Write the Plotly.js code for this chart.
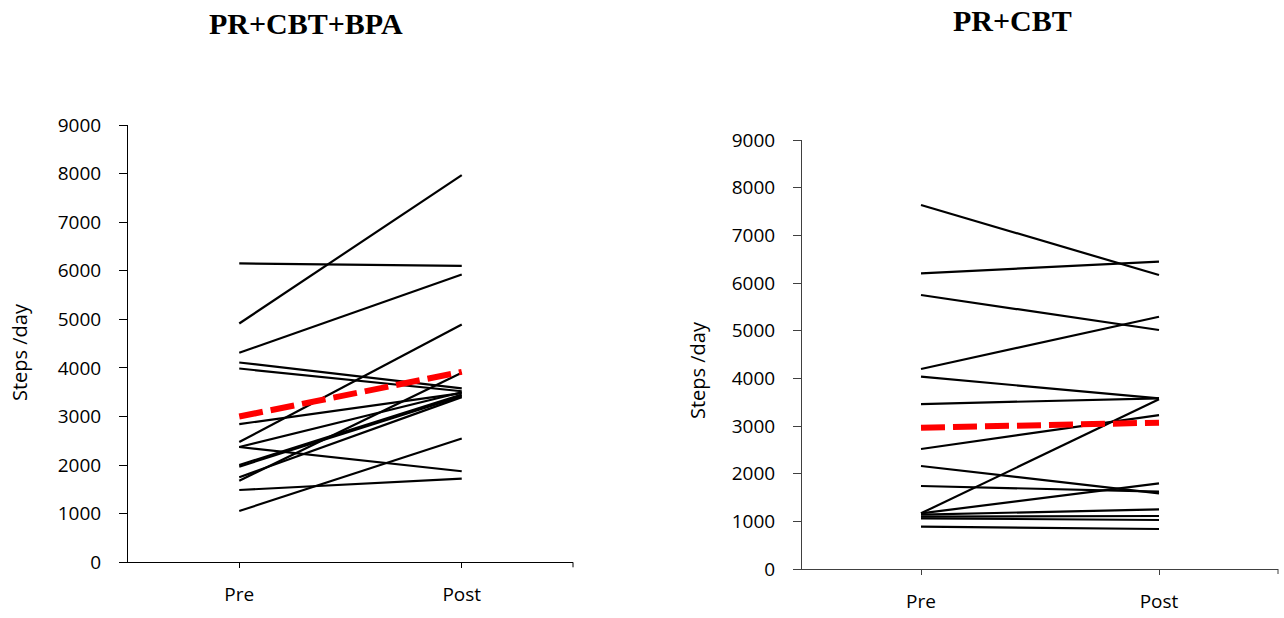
<!DOCTYPE html>
<html>
<head>
<meta charset="utf-8">
<script src="https://cdn.plot.ly/plotly-3.0.1.min.js"></script>
<style>html,body{margin:0;padding:0;background:#fff;}#chart{width:1284px;height:618px;}</style>
</head>
<body>
<div id="chart"></div>
<script>
// ---- Data ----
const categories = ["Pre", "Post"];
const yTicks = [0, 1000, 2000, 3000, 4000, 5000, 6000, 7000, 8000, 9000];

// PR+CBT+BPA individual participants
const preA  = [4915, 6151, 4311, 2476, 1056, 2373, 1488, 1680, 4112, 3988, 2845, 2373, 2003, 1969, 1750];
const postA = [7970, 6102, 5924, 4894, 2547, 1874, 1723, 3900, 3580, 3520, 3480, 3500, 3450, 3420, 3400];
const meanA = [3000, 3920];

// PR+CBT individual participants
const preB  = [7636, 6203, 5748, 4196, 4035, 3461, 2517, 2161, 1741, 1168, 1168, 1140, 1098, 1063, 888];
const postB = [6167, 6447, 5014, 5293, 3580, 3580, 3230, 1588, 1622, 3560, 1797, 1252, 1112, 1028, 839];
const meanB = [2965, 3070];

const titleA = "PR+CBT+BPA";
const titleB = "PR+CBT";
const yLabel = "Steps /day";

// ---- Build traces ----
const traces = [];
function addGroup(pre, post, mean, xa, ya) {
  for (let i = 0; i < pre.length; i++) {
    traces.push({
      x: categories, y: [pre[i], post[i]], xaxis: xa, yaxis: ya,
      type: "scatter", mode: "lines", showlegend: false, hoverinfo: "skip",
      line: {color: "#000000", width: 2.2}
    });
  }
  traces.push({
    x: categories, y: mean, xaxis: xa, yaxis: ya,
    type: "scatter", mode: "lines", showlegend: false, hoverinfo: "skip",
    line: {color: "#FF0000", width: 6, dash: "24px,8px"}
  });
}
addGroup(preA, postA, meanA, "x", "y");
addGroup(preB, postB, meanB, "x2", "y2");

const W = 1284, H = 618;
const tickFont = {family: "Open Sans, sans-serif", size: 19, color: "#000"};

function xAxis(l, r, anchor, col) {
  return {
    domain: [l / W, r / W], anchor: anchor, type: "category",
    range: [-0.5, 1.5], showline: true, linecolor: col, linewidth: 1,
    ticks: "outside", ticklen: 5, tickcolor: col, tickwidth: 1,
    showgrid: false, zeroline: false, tickfont: tickFont, ticklabelstandoff: 10,
    fixedrange: true
  };
}
function yAxis(top, bot, anchor, col) {
  return {
    domain: [1 - bot / H, 1 - top / H], anchor: anchor,
    range: [0, 9000], tickvals: yTicks, ticktext: yTicks.map(String),
    showline: true, linecolor: col, linewidth: 1,
    ticks: "outside", ticklen: 8, tickcolor: col, tickwidth: 1,
    showgrid: false, zeroline: false, tickfont: tickFont, ticklabelstandoff: 14,
    fixedrange: true
  };
}

const layout = {
  width: W, height: H,
  margin: {l: 0, r: 0, t: 0, b: 0},
  paper_bgcolor: "#ffffff", plot_bgcolor: "#ffffff",
  showlegend: false,
  xaxis: xAxis(128, 573, "y", "#000000"),
  yaxis: yAxis(125, 562.3, "x", "#000000"),
  xaxis2: xAxis(802, 1278, "y2", "#404040"),
  yaxis2: yAxis(140, 569, "x2", "#404040"),
  shapes: [
    {type: "line", xref: "x domain", x0: 1, x1: 1, yref: "y domain", ysizemode: "pixel", yanchor: 0, y0: 0, y1: -5, line: {color: "#000", width: 1}},
    {type: "line", xref: "x2 domain", x0: 1, x1: 1, yref: "y2 domain", ysizemode: "pixel", yanchor: 0, y0: 0, y1: -5, line: {color: "#404040", width: 1}}
  ],
  annotations: [
    {text: "<b>" + titleA + "</b>", xref: "paper", yref: "paper", x: 306 / W, y: 1 - 23 / H,
     xanchor: "center", yanchor: "middle", showarrow: false,
     font: {family: "Liberation Serif, Times New Roman, serif", size: 30, color: "#000"}},
    {text: "<b>" + titleB + "</b>", xref: "paper", yref: "paper", x: 1012 / W, y: 1 - 21 / H,
     xanchor: "center", yanchor: "middle", showarrow: false,
     font: {family: "Liberation Serif, Times New Roman, serif", size: 30, color: "#000"}},
    {text: yLabel, xref: "paper", yref: "paper", x: 19 / W, y: 1 - 352 / H,
     xanchor: "center", yanchor: "middle", textangle: -90, showarrow: false,
     font: {family: "Open Sans, sans-serif", size: 20, color: "#000"}},
    {text: yLabel, xref: "paper", yref: "paper", x: 697 / W, y: 1 - 370 / H,
     xanchor: "center", yanchor: "middle", textangle: -90, showarrow: false,
     font: {family: "Open Sans, sans-serif", size: 20, color: "#000"}}
  ]
};

Plotly.newPlot("chart", traces, layout, {displayModeBar: false, staticPlot: true});
</script>
</body>
</html>
